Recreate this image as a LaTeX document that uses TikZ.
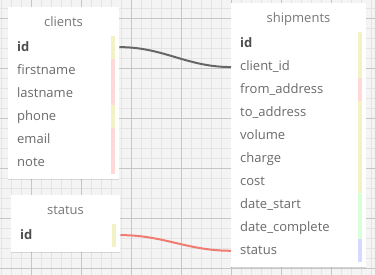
\documentclass[tikz,border=0pt]{standalone}
\usepackage{fontspec}
\setmainfont{Open Sans}
\usetikzlibrary{positioning,shadows}

\definecolor{paper}{HTML}{F4F4F4}
\definecolor{minorline}{HTML}{E4E4E4}
\definecolor{majorline}{HTML}{C6C6C6}
\definecolor{titletext}{HTML}{777777}
\definecolor{fieldtext}{HTML}{6A6A6A}
\definecolor{keytext}{HTML}{4E4E4E}
\definecolor{yellowbar}{HTML}{F2F2C4}
\definecolor{pinkbar}{HTML}{FFD8D8}
\definecolor{greenbar}{HTML}{D8FFD8}
\definecolor{lilacbar}{HTML}{D8D8FF}
\definecolor{fklink}{HTML}{666666}
\definecolor{statuslink}{HTML}{F07B70}

\begin{document}
\begin{tikzpicture}[x=1pt,y=-1pt,
	table/.style={rectangle,fill=white,inner sep=0pt,anchor=north west,
		drop shadow={shadow xshift=0pt,shadow yshift=-1pt,fill=black,opacity=0.12}},
	title/.style={anchor=base,inner sep=0pt,text=titletext,font=\fontsize{13}{15}\selectfont},
	field/.style={anchor=base west,inner sep=0pt,text=fieldtext,font=\fontsize{13}{15}\selectfont},
	key/.style={field,text=keytext,font=\fontsize{13}{15}\selectfont\bfseries},
	link/.style={line width=2pt,out=0,in=180}]
	\useasboundingbox (0,0) rectangle (375,275);

	% background grid
	\fill[paper] (0,0) rectangle (375,275);
	\foreach \x in {1.7,11.7,...,371.7}
		\draw[minorline,line width=1pt] (\x,0) -- (\x,275);
	\foreach \y in {8.3,18.3,...,268.3}
		\draw[minorline,line width=1pt] (0,\y) -- (375,\y);
	\foreach \x in {31.7,81.7,...,331.7}
		\draw[majorline,line width=1pt] (\x,0) -- (\x,275);
	\foreach \y in {18.3,68.3,...,268.3}
		\draw[majorline,line width=1pt] (0,\y) -- (375,\y);

	% tables
	\node[table,minimum width=111pt,minimum height=172pt] (clients) at (8,7) {};
	\node[table,minimum width=135pt,minimum height=264pt] (shipments) at (231,3) {};
	\node[table,minimum width=109pt,minimum height=57pt] (status) at (11,195) {};

	\node[title] (clients-title) at (63.5,26.5) {clients};
	\node[title] (shipments-title) at (298.5,22.5) {shipments};
	\node[title] (status-title) at (65.5,214.5) {status};

	% clients fields
	\node[key] (cl-id) at (17,52) {id};
	\foreach \f [count=\i] in {firstname,lastname,phone,email,note}
		\node[field] (cl-\f) at (17,{52+23*\i}) {\f};
	\foreach \c [count=\i from 0] in {yellowbar,pinkbar,pinkbar,yellowbar,pinkbar,pinkbar}
		\fill[\c] (111,{36+23*\i}) rectangle +(4,23);

	% shipments fields
	\node[key] (sh-id) at (240,48) {id};
	\foreach \f/\t [count=\i] in {client/client\_id,from/from\_address,to/to\_address,
			volume/volume,charge/charge,cost/cost,start/date\_start,
			complete/date\_complete,status/status}
		\node[field] (sh-\f) at (240,{48+23*\i}) {\t};
	\foreach \c [count=\i from 0] in {yellowbar,yellowbar,pinkbar,yellowbar,yellowbar,
			yellowbar,yellowbar,greenbar,greenbar,lilacbar}
		\fill[\c] (358,{32+23*\i}) rectangle +(4,23);

	% status fields
	\node[key] (st-id) at (20,240) {id};
	\fill[yellowbar] (112,224) rectangle +(4,23);

	% relations
	\draw[link,fklink] (clients.east |- cl-id) to (shipments.west |- sh-client);
	\draw[link,statuslink] (status.east |- st-id) to (shipments.west |- sh-status);
\end{tikzpicture}
\end{document}
